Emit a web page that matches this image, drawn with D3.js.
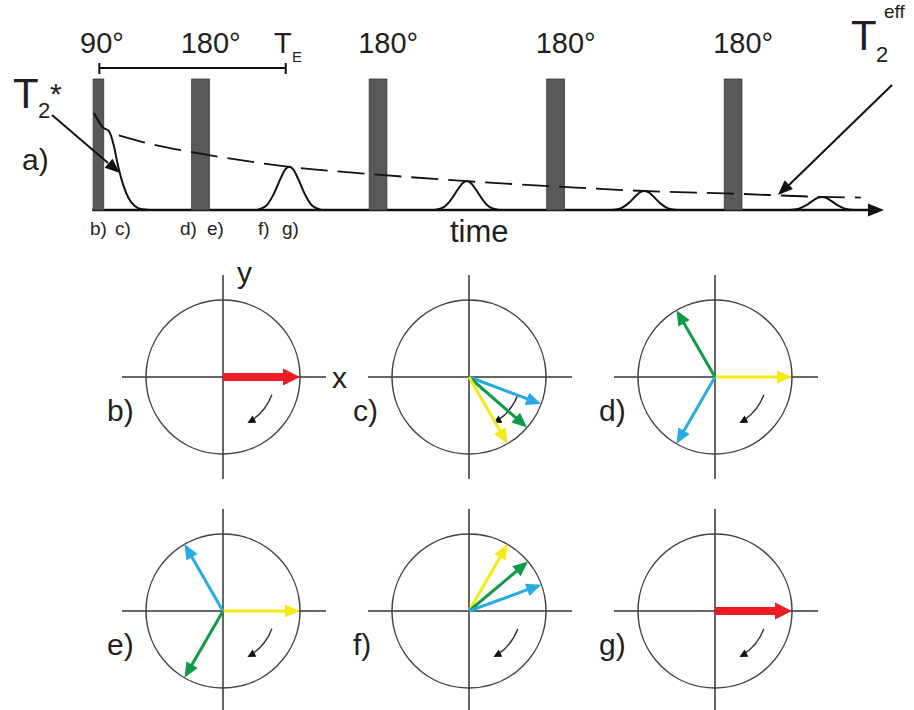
<!DOCTYPE html>
<html>
<head>
<meta charset="utf-8">
<script src="https://cdn.jsdelivr.net/npm/d3@7"></script>
<style>
  body { margin: 0; background: #fff; }
  svg { display: block; font-family: "Liberation Sans", Arial, sans-serif; }
  text { fill: #231f20; }
</style>
</head>
<body>
<div id="chart"></div>
<script>
// ---- data ----
// time axis in arbitrary units (TE = 10)
const excitation = { t: 0.25, width: 0.6, label: "90°" };
const refocusTimes = [6, 16, 26, 36];
const refocusLabels = ["180°", "180°", "180°", "180°"];
const echoTimes = [11, 21, 31, 41];
const echoAmps = [0.33, 0.22, 0.145, 0.10];
// echo shape: offset from echo centre, relative height
const echoOffsets = [-1.8, -1.3, -0.9, -0.5, -0.2, 0, 0.2, 0.5, 0.9, 1.3, 1.8];
const echoShape = [0, 0.1, 0.35, 0.72, 0.95, 1, 0.95, 0.72, 0.35, 0.1, 0];
// free induction decay after the 90° pulse
const fidTimes = [0, 0.5, 0.85, 1.1, 1.35, 1.65, 1.95, 2.3, 2.7, 3.1];
const fidAmps = [0.74, 0.63, 0.6, 0.5, 0.34, 0.19, 0.09, 0.03, 0.005, 0];
// T2 effective envelope (dashed)
const envTimes = [1.4, 3, 6, 11, 16, 21, 26, 31, 36, 41, 43.2];
const envAmps = [0.57, 0.51, 0.43, 0.33, 0.27, 0.22, 0.18, 0.145, 0.125, 0.10, 0.095];

// rotating-frame panels: spin group + angle in degrees
const panelLabels = ["b)", "c)", "d)", "e)", "f)", "g)"];
const panelVectors = [
  [["net", 0]],
  [["fast", -20.6], ["mid", -41], ["slow", -60]],
  [["slow", 0], ["mid", 120], ["fast", 240]],
  [["slow", 0], ["fast", 120], ["mid", 240]],
  [["slow", 60], ["mid", 40], ["fast", 20]],
  [["net", 0]]
];
const spinColors = { net: "#ec1c24", fast: "#27aae1", mid: "#0f9a48", slow: "#f6ea14" };
const rotationArc = [-20, -62];  // small curved arrow, degrees

const W = 914, H = 710;
const svg = d3.select("#chart").append("svg")
  .attr("width", W).attr("height", H);

const ink = "#111";

function arrowHead(g, tipX, tipY, dx, dy, len, half, fill) {
  const n = Math.hypot(dx, dy);
  const ux = dx / n, uy = dy / n;
  const bx = tipX - ux * len, by = tipY - uy * len;
  g.append("path")
    .attr("d", `M${tipX},${tipY}L${bx - uy * half},${by + ux * half}L${bx + uy * half},${by - ux * half}Z`)
    .attr("fill", fill);
}

// ================= a) pulse sequence =================
const x = d3.scaleLinear().domain([0, 44.5]).range([94, 884]);
const y = d3.scaleLinear().domain([0, 1]).range([210, 79]);
const seq = svg.append("g");

// time axis
seq.append("line")
  .attr("x1", x(-0.1)).attr("x2", x(43.8))
  .attr("y1", y(0)).attr("y2", y(0))
  .attr("stroke", ink).attr("stroke-width", 2.5);
arrowHead(seq, x(44.5), y(0), 1, 0, 16, 6.5, ink);

// pulses
const pulses = [{ t: excitation.t, w: excitation.width }]
  .concat(refocusTimes.map(t => ({ t, w: 1.0 })));
seq.selectAll("rect.pulse")
  .data(pulses)
  .join("rect")
    .attr("class", "pulse")
    .attr("x", d => x(d.t - d.w / 2))
    .attr("width", d => x(d.w) - x(0))
    .attr("y", y(1))
    .attr("height", y(0) - y(1))
    .attr("fill", "#58595b")
    .attr("stroke", "#3a3a3c")
    .attr("stroke-width", 0.8);

// pulse labels
seq.append("text").attr("x", 80).attr("y", 53)
  .attr("font-size", 29).text(excitation.label);
seq.selectAll("text.ref")
  .data(refocusTimes)
  .join("text")
    .attr("class", "ref")
    .attr("x", d => x(d - 0.5) - 11)
    .attr("y", 53)
    .attr("font-size", 29)
    .text((d, i) => refocusLabels[i]);

// TE bracket
const brY = 68;
seq.append("path")
  .attr("d", `M${x(0.3)},${brY - 5}V${brY + 6}M${x(0.3)},${brY}H${x(10.8)}M${x(10.8)},${brY - 5}V${brY + 6}`)
  .attr("stroke", ink).attr("stroke-width", 2).attr("fill", "none");
seq.append("text").attr("x", 274).attr("y", 53).attr("font-size", 29).text("T");
seq.append("text").attr("x", 292).attr("y", 62).attr("font-size", 15).text("E");

// FID
const fidLine = d3.line().x(d => x(d[0])).y(d => y(d[1])).curve(d3.curveMonotoneX);
seq.append("path")
  .attr("d", fidLine(fidTimes.map((t, i) => [t, fidAmps[i]])))
  .attr("fill", "none").attr("stroke", ink).attr("stroke-width", 2);

// echoes
const echoLine = d3.line().x(d => x(d[0])).y(d => y(d[1])).curve(d3.curveCatmullRom);
echoTimes.forEach((t, i) => {
  const pts = echoOffsets.map((o, k) => [t + o, echoAmps[i] * echoShape[k]]);
  seq.append("path")
    .attr("d", echoLine(pts))
    .attr("fill", "none").attr("stroke", ink).attr("stroke-width", 2);
});

// T2eff envelope
seq.append("path")
  .attr("d", fidLine(envTimes.map((t, i) => [t, envAmps[i]])))
  .attr("fill", "none").attr("stroke", ink).attr("stroke-width", 1.8)
  .attr("stroke-dasharray", "27,10");

// labels under axis
const small = [["b)", 90], ["c)", 115], ["d)", 180], ["e)", 207], ["f)", 258], ["g)", 282]];
seq.selectAll("text.tick")
  .data(small)
  .join("text")
    .attr("class", "tick")
    .attr("x", d => d[1]).attr("y", 235)
    .attr("font-size", 19)
    .text(d => d[0]);
seq.append("text").attr("x", 450).attr("y", 242).attr("font-size", 31).text("time");
seq.append("text").attr("x", 22).attr("y", 170).attr("font-size", 30).text("a)");

// T2* annotation
seq.append("text").attr("x", 13).attr("y", 108).attr("font-size", 42).text("T");
seq.append("text").attr("x", 38).attr("y", 118).attr("font-size", 22).text("2");
seq.append("text").attr("x", 50).attr("y", 104).attr("font-size", 30).text("*");
seq.append("line").attr("x1", 52).attr("y1", 115).attr("x2", 108).attr("y2", 163)
  .attr("stroke", ink).attr("stroke-width", 2);
arrowHead(seq, 120, 173, 68, 58, 15, 6, ink);

// T2eff annotation
seq.append("text").attr("x", 851).attr("y", 50).attr("font-size", 42).text("T");
seq.append("text").attr("x", 876).attr("y", 62).attr("font-size", 22).text("2");
seq.append("text").attr("x", 884).attr("y", 18).attr("font-size", 19).text("eff");
seq.append("line").attr("x1", 892).attr("y1", 85).attr("x2", 789).attr("y2", 185)
  .attr("stroke", ink).attr("stroke-width", 2);
arrowHead(seq, 778, 195, -114, 110, 15, 6, ink);

// ================= b)–g) rotating frame =================
const col = d3.scalePoint().domain([0, 1, 2]).range([223, 715]);
const row = d3.scalePoint().domain([0, 1]).range([377, 611]);
const r = d3.scaleLinear().domain([0, 1]).range([0, 77]);
const rad = deg => deg * Math.PI / 180;

panelLabels.forEach((lab, i) => {
  const cx = col(i % 3), cy = row(Math.floor(i / 3));
  const g = svg.append("g");

  g.append("line").attr("x1", cx - 101).attr("x2", cx + 103)
    .attr("y1", cy).attr("y2", cy).attr("stroke", "#333").attr("stroke-width", 1.5);
  g.append("line").attr("x1", cx).attr("x2", cx)
    .attr("y1", cy - 102).attr("y2", cy + 102).attr("stroke", "#333").attr("stroke-width", 1.5);
  g.append("circle").attr("cx", cx).attr("cy", cy).attr("r", r(1))
    .attr("fill", "none").attr("stroke", "#444").attr("stroke-width", 1.5);

  g.append("text").attr("x", cx - 116).attr("y", cy + 44)
    .attr("font-size", 30).text(lab);

  // rotation sense
  const R = r(0.675);
  const a0 = rad(-rotationArc[0]), a1 = rad(-rotationArc[1]);
  const p = d3.path();
  p.arc(cx, cy, R, a0, a1 - 0.12, false);
  g.append("path").attr("d", p.toString())
    .attr("fill", "none").attr("stroke", "#333").attr("stroke-width", 1.4);
  arrowHead(g, cx + R * Math.cos(a1), cy + R * Math.sin(a1),
    -Math.sin(a1), Math.cos(a1), 8, 4, "#111");

  // magnetisation vectors
  panelVectors[i].forEach(([spin, deg]) => {
    const a = rad(deg);
    const thick = spin === "net";
    const len = thick ? 17 : 15;
    const tx = cx + r(1) * Math.cos(a), ty = cy - r(1) * Math.sin(a);
    const ux = Math.cos(a), uy = -Math.sin(a);
    g.append("line")
      .attr("x1", cx).attr("y1", cy)
      .attr("x2", tx - ux * (len - 1)).attr("y2", ty - uy * (len - 1))
      .attr("stroke", spinColors[spin])
      .attr("stroke-width", thick ? 8 : 3);
    arrowHead(g, tx, ty, ux, uy, len, thick ? 8.5 : 6.5, spinColors[spin]);
  });
});

// axis names on first panel
svg.append("text").attr("x", 237).attr("y", 283).attr("font-size", 30).text("y");
svg.append("text").attr("x", 332).attr("y", 388).attr("font-size", 30).text("x");
</script>
</body>
</html>
